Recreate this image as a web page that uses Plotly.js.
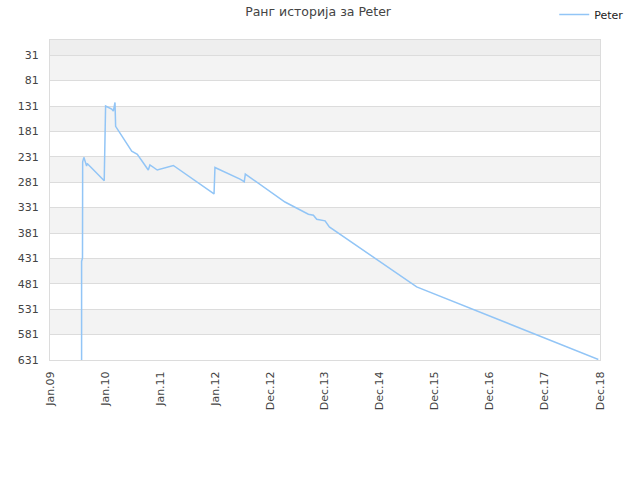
<!DOCTYPE html>
<html>
<head>
<meta charset="utf-8">
<script src="https://cdn.plot.ly/plotly-3.0.1.min.js"></script>
<style>html,body{margin:0;padding:0;background:#fff}#chart{width:640px;height:480px}</style>
</head>
<body>
<div id="chart"></div>
<script>
var seriesName = 'Peter';
var chartTitle = 'Ранг историја за Peter';
var dates = ['2009-07-28','2009-07-28','2009-08-03','2009-08-04','2009-08-12','2009-08-26','2009-08-30','2009-09-03',
  '2009-12-24','2009-12-25','2009-12-29','2010-01-02','2010-02-11','2010-02-22','2010-03-05','2010-03-09',
  '2010-06-23','2010-07-30','2010-10-10','2010-10-21','2010-12-08','2011-03-24','2011-12-17','2011-12-19',
  '2011-12-23','2012-06-05','2012-07-03','2012-07-10','2013-03-28','2013-08-29','2013-10-01','2013-10-23',
  '2013-12-17','2014-01-14','2015-08-12','2018-11-20'];
var ranks = [631,437,430,241,232,245,249,244,
  278,260,165,131,137,141,124,171,
  220,226,257,247,257,248,304,273,
  252,275,280,265,320,344,346,354,
  357,369,487,630];
var tickLabels = ['Jan.09','Jan.10','Jan.11','Jan.12','Dec.12','Dec.13','Dec.14','Dec.15','Dec.16','Dec.17','Dec.18'];
var yTicks = [31,81,131,181,231,281,331,381,431,481,531,581,631];
var xStart = '2009-01-01', xEnd = '2018-12-01';
var yTop = 1, yBottom = 631;

var t0 = new Date(xStart).getTime(), t1 = new Date(xEnd).getTime();
var tickVals = tickLabels.map(function(_, i){
  return new Date(t0 + (t1 - t0) * i / (tickLabels.length - 1)).toISOString().slice(0,10);
});

var shapes = [{type:'rect', xref:'paper', yref:'y', x0:0, x1:1, y0:yTop, y1:yTicks[0],
  fillcolor:'#eeeeee', line:{width:0}, layer:'below'}];
for (var i = 0; i + 1 < yTicks.length; i += 2) {
  shapes.push({type:'rect', xref:'paper', yref:'y', x0:0, x1:1, y0:yTicks[i], y1:yTicks[i+1],
    fillcolor:'#f3f3f3', line:{width:0}, layer:'below'});
}

var trace = {x: dates, y: ranks, type:'scatter', mode:'lines', name: seriesName,
  line:{color:'#92c5f6', width:1.5}, hoverinfo:'skip'};

var layout = {
  width:640, height:480,
  margin:{l:50, r:40, t:40, b:120, pad:0, autoexpand:false},
  paper_bgcolor:'#ffffff', plot_bgcolor:'#ffffff',
  font:{family:'DejaVu Sans, Verdana, sans-serif', size:11, color:'#444'},
  title:{text: chartTitle, x:0.497, xref:'container', xanchor:'center', y:0.975, yref:'container', yanchor:'middle',
    font:{size:12.5, color:'#444', family:'DejaVu Sans, sans-serif'}},
  showlegend:true,
  legend:{xref:'container', yref:'container', x:0.866, xanchor:'left', y:1, yanchor:'top',
    itemwidth:30, font:{size:11, color:'#222'}, bgcolor:'rgba(0,0,0,0)'},
  xaxis:{type:'date', range:[xStart, xEnd], tickmode:'array', tickvals:tickVals, ticktext:tickLabels,
    tickangle:-90, showgrid:false, zeroline:false, showline:true, mirror:true, linecolor:'#dcdcdc', linewidth:1,
    ticks:'', ticklabelstandoff:6, tickfont:{size:11, color:'#444'}, fixedrange:true},
  yaxis:{range:[yBottom, yTop], tickmode:'array', tickvals:yTicks, ticktext:yTicks.map(String),
    showgrid:true, gridcolor:'#dcdcdc', gridwidth:1, zeroline:false, showline:true, mirror:true,
    linecolor:'#dcdcdc', linewidth:1, ticks:'', ticklabelstandoff:8, tickfont:{size:11, color:'#444'}, fixedrange:true},
  shapes: shapes
};
Plotly.newPlot('chart', [trace], layout, {displayModeBar:false, staticPlot:true});
</script>
</body>
</html>
